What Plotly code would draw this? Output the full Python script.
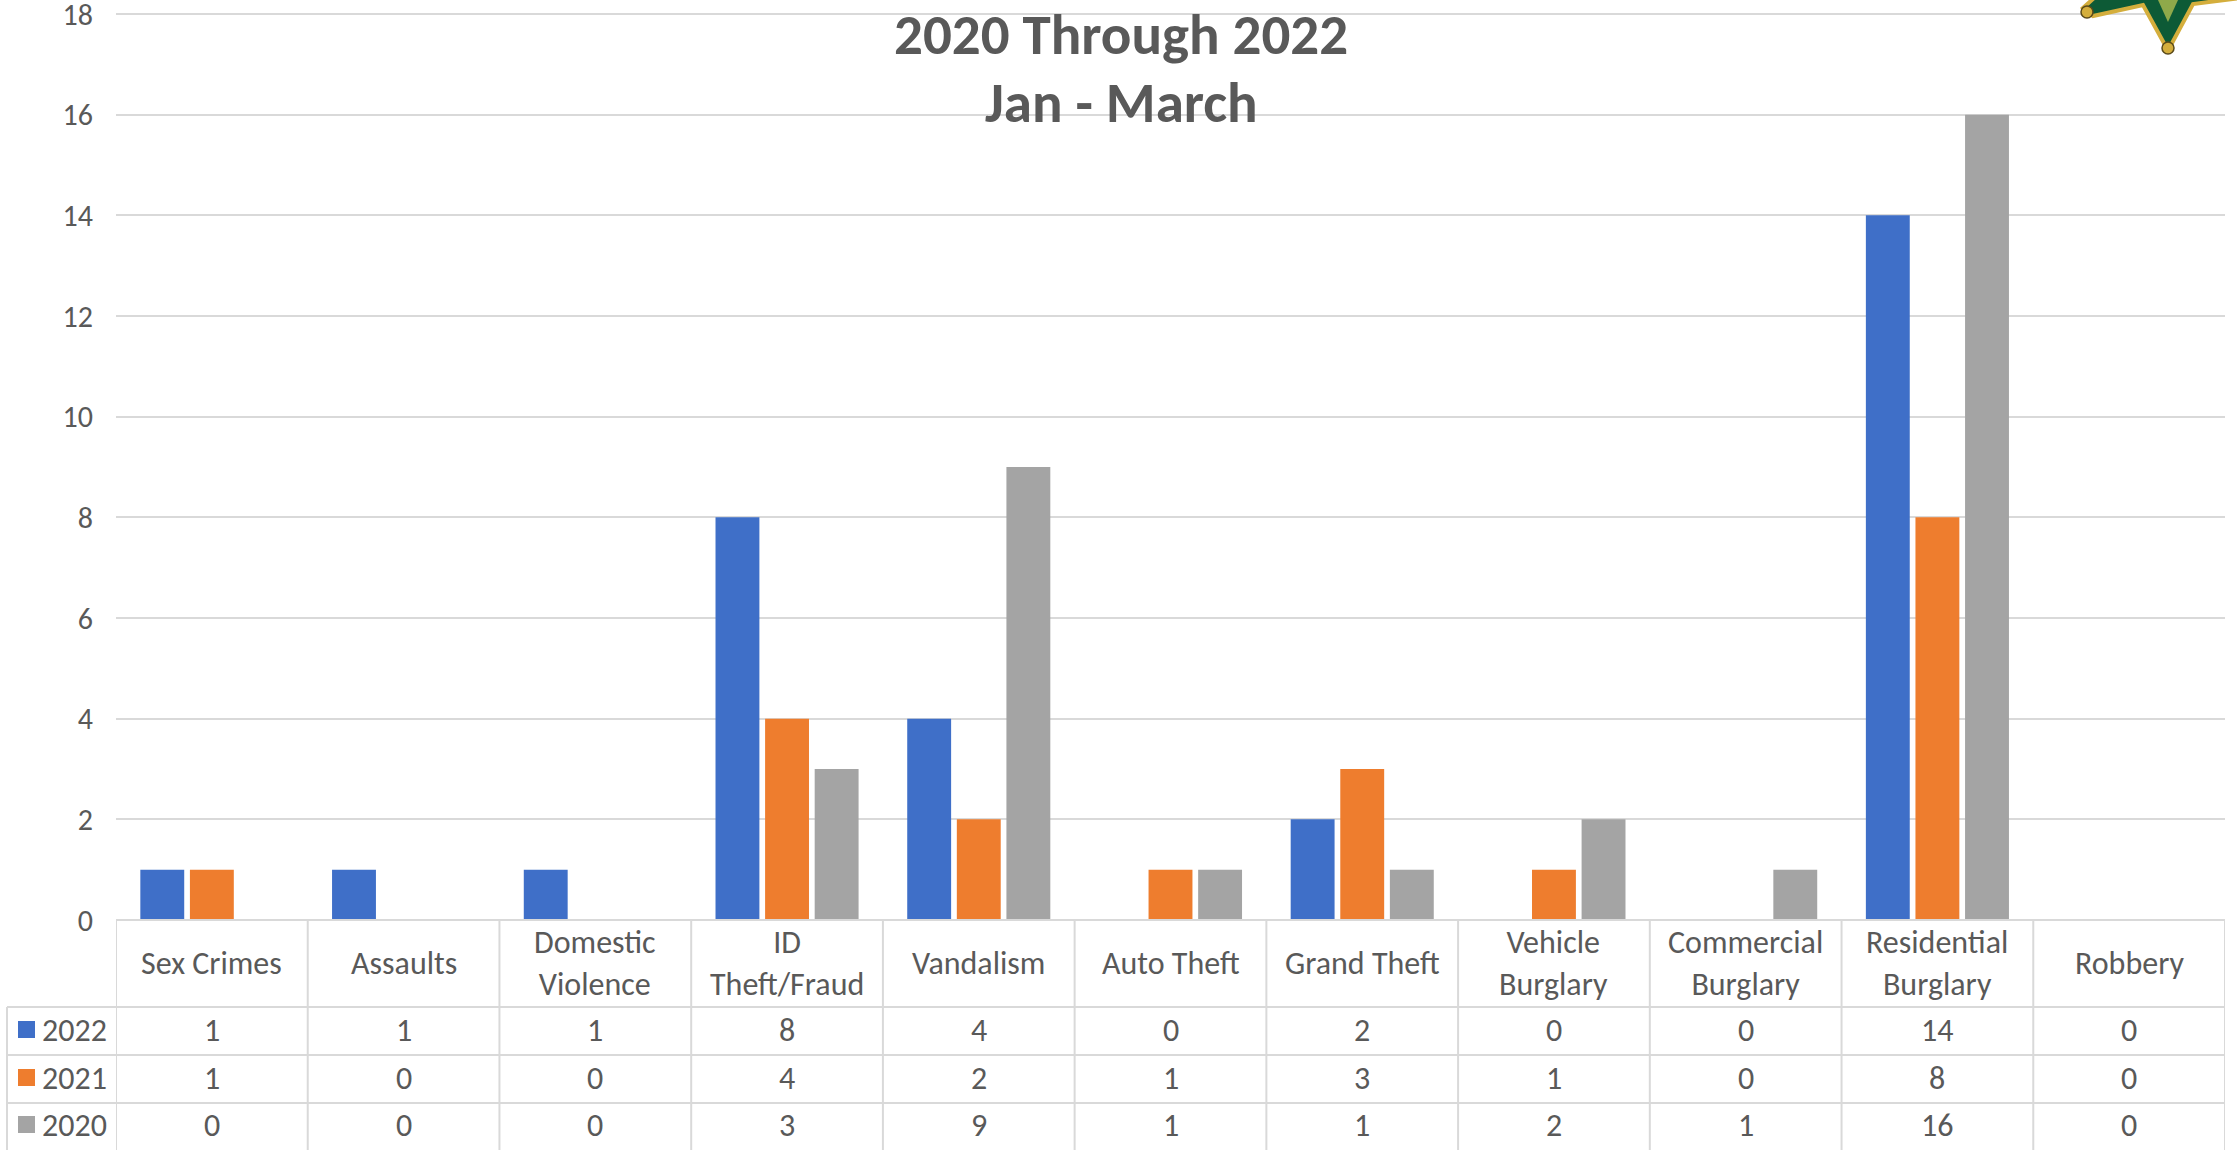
import plotly.graph_objects as go

# Crime counts, January - March, by category and year
categories = ["Sex Crimes", "Assaults", "Domestic Violence", "ID Theft/Fraud", "Vandalism",
              "Auto Theft", "Grand Theft", "Vehicle Burglary", "Commercial Burglary",
              "Residential Burglary", "Robbery"]
header_labels = ["Sex Crimes", "Assaults", "Domestic<br>Violence", "ID<br>Theft/Fraud", "Vandalism",
                 "Auto Theft", "Grand Theft", "Vehicle<br>Burglary", "Commercial<br>Burglary",
                 "Residential<br>Burglary", "Robbery"]
years = ["2022", "2021", "2020"]
counts_2022 = [1, 1, 1, 8, 4, 0, 2, 0, 0, 14, 0]
counts_2021 = [1, 0, 0, 4, 2, 1, 3, 1, 0, 8, 0]
counts_2020 = [0, 0, 0, 3, 9, 1, 1, 2, 1, 16, 0]
y_ticks = [0, 2, 4, 6, 8, 10, 12, 14, 16, 18]

series = [counts_2022, counts_2021, counts_2020]
colors = ["#3f6fc8", "#ee7d2e", "#a4a4a4"]

W, H = 2237, 1150
L, R, T, B = 116, 12, 0, 230
plot_w = W - L - R
plot_h = H - T - B
# the value 18 sits 14 px below the top edge of the plotting area
y_top = 18 * plot_h / (plot_h - 14)
text_color = "#595959"
grid_color = "#d9d9d9"
font_family = "Carlito, Lato, sans-serif"
table_font = 32


def px_x(px):
    return (px - L) / plot_w


def px_y(py):
    return (H - B - py) / plot_h


fig = go.Figure()
for year, vals, col in zip(years, series, colors):
    fig.add_trace(go.Bar(x=list(range(len(categories))), y=vals, name=year,
                         marker=dict(color=col, line=dict(width=0)),
                         hovertext=categories))

shapes = []
annotations = []

# table grid
n = len(categories)
row_lines = [1007, 1055, 1103]
for py in row_lines:
    shapes.append(dict(type="line", xref="paper", yref="paper", x0=px_x(7), x1=1,
                       y0=px_y(py), y1=px_y(py), line=dict(color=grid_color, width=2)))
shapes.append(dict(type="line", xref="paper", yref="paper", x0=0, x1=1,
                   y0=0, y1=0, line=dict(color=grid_color, width=2)))
for i in range(n + 1):
    shapes.append(dict(type="line", xref="x", yref="paper", x0=i - 0.5, x1=i - 0.5,
                       y0=0, y1=px_y(H + 5), line=dict(color=grid_color, width=2)))
shapes.append(dict(type="line", xref="paper", yref="paper", x0=px_x(7), x1=px_x(7),
                   y0=px_y(1007), y1=px_y(H + 5), line=dict(color=grid_color, width=2)))

# header row: category names
for i, lab in enumerate(header_labels):
    annotations.append(dict(x=i, y=px_y(963), xref="x", yref="paper", text=lab,
                            showarrow=False, xanchor="center", yanchor="middle",
                            font=dict(size=table_font, color=text_color, family=font_family)))

# value rows with legend keys
row_centers = [1030, 1078, 1125]
for year, vals, col, cy in zip(years, series, colors, row_centers):
    shapes.append(dict(type="rect", xref="paper", yref="paper",
                       x0=px_x(18), x1=px_x(35), y0=px_y(cy + 8), y1=px_y(cy - 9),
                       fillcolor=col, line=dict(width=0)))
    annotations.append(dict(x=px_x(109), y=px_y(cy), xref="paper", yref="paper", text=year,
                            showarrow=False, xanchor="right", yanchor="middle",
                            font=dict(size=table_font, color=text_color, family=font_family)))
    for i, v in enumerate(vals):
        annotations.append(dict(x=i, y=px_y(cy), xref="x", yref="paper", text=str(v),
                                showarrow=False, xanchor="center", yanchor="middle",
                                font=dict(size=table_font, color=text_color, family=font_family)))

# title lines
annotations.append(dict(x=px_x(1121), y=px_y(34), xref="paper", yref="paper",
                        text="<b>2020 Through 2022</b>", showarrow=False,
                        xanchor="center", yanchor="middle",
                        font=dict(size=57, color=text_color, family=font_family)))
annotations.append(dict(x=px_x(1121), y=px_y(103), xref="paper", yref="paper",
                        text="<b>Jan - March</b>", showarrow=False,
                        xanchor="center", yanchor="middle",
                        font=dict(size=57, color=text_color, family=font_family)))

# badge emblem in the corner
badge = "M {x0},{y0} L {x1},{y1} L {x2},{y2} L {x3},{y3} L {x4},{y4} L {x5},{y5} L {x6},{y6} L {x7},{y7} Z"
pts = [(2094, -2), (2083, 8), (2093, 16), (2143, 5), (2165, 45), (2171, 45), (2193, 4), (2240, -2)]
path_kw = {}
for k, (a, b) in enumerate(pts):
    path_kw[f"x{k}"] = f"{px_x(a):.5f}"
    path_kw[f"y{k}"] = f"{px_y(b):.5f}"
shapes.append(dict(type="path", xref="paper", yref="paper", path=badge.format(**path_kw),
                   fillcolor="#0d5a36", line=dict(color="#d4ae3c", width=4), layer="above"))
for cx, cy in [(2087, 12), (2168, 48)]:
    shapes.append(dict(type="circle", xref="paper", yref="paper",
                       x0=px_x(cx - 6), x1=px_x(cx + 6), y0=px_y(cy + 6), y1=px_y(cy - 6),
                       fillcolor="#d4ae3c", line=dict(color="#5a4a1a", width=1.5), layer="above"))
shapes.append(dict(type="path", xref="paper", yref="paper",
                   path="M {a},{b} L {c},{d} L {e},{f} Z".format(
                       a=f"{px_x(2158):.5f}", b=f"{px_y(0):.5f}",
                       c=f"{px_x(2168):.5f}", d=f"{px_y(22):.5f}",
                       e=f"{px_x(2178):.5f}", f=f"{px_y(0):.5f}"),
                   fillcolor="#8fa94a", line=dict(width=0), layer="above"))

fig.update_layout(
    width=W, height=H,
    margin=dict(l=L, r=R, t=T, b=B, pad=0, autoexpand=False),
    paper_bgcolor="white", plot_bgcolor="white",
    barmode="group", bargap=0.224, bargroupgap=0.115,
    showlegend=False,
    shapes=shapes, annotations=annotations,
    xaxis=dict(range=[-0.5, n - 0.5], showticklabels=False, showgrid=False,
               zeroline=False, showline=False, fixedrange=True, automargin=False),
    yaxis=dict(range=[0, y_top], tickvals=y_ticks, showgrid=True, gridcolor=grid_color,
               gridwidth=1.5, zeroline=False, showline=False, ticklabelstandoff=22,
               ticklabeloverflow="allow", automargin=False,
               tickfont=dict(size=30, color=text_color, family=font_family)),
    font=dict(family=font_family, color=text_color),
)

fig.write_html("out.html")
